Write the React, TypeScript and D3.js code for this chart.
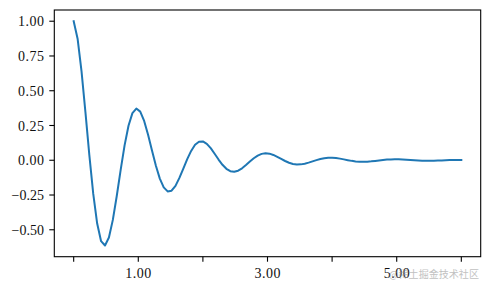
import React from "react";
import * as d3 from "d3";

const tValues = [
  0, 0.0606, 0.1212, 0.1818, 0.2424, 0.303, 0.3636, 0.4242, 0.4848, 0.5455, 0.6061, 0.6667, 0.7273, 0.7879, 0.8485, 0.9091, 0.9697,
  1.0303, 1.0909, 1.1515, 1.2121, 1.2727, 1.3333, 1.3939, 1.4545, 1.5152, 1.5758, 1.6364, 1.697, 1.7576, 1.8182, 1.8788, 1.9394,
  2.0, 2.0606, 2.1212, 2.1818, 2.2424, 2.303, 2.3636, 2.4242, 2.4848, 2.5455, 2.6061, 2.6667, 2.7273, 2.7879, 2.8485, 2.9091, 2.9697,
  3.0303, 3.0909, 3.1515, 3.2121, 3.2727, 3.3333, 3.3939, 3.4545, 3.5152, 3.5758, 3.6364, 3.697, 3.7576, 3.8182, 3.8788, 3.9394,
  4.0, 4.0606, 4.1212, 4.1818, 4.2424, 4.303, 4.3636, 4.4242, 4.4848, 4.5455, 4.6061, 4.6667, 4.7273, 4.7879, 4.8485, 4.9091, 4.9697,
  5.0303, 5.0909, 5.1515, 5.2121, 5.2727, 5.3333, 5.3939, 5.4545, 5.5152, 5.5758, 5.6364, 5.697, 5.7576, 5.8182, 5.8788, 5.9394, 6.0,
];

const yValues = [
  1.0, 0.874, 0.641, 0.346, 0.037, -0.242, -0.455, -0.582, -0.613, -0.556, -0.429, -0.257, -0.069, 0.107, 0.248, 0.339, 0.372,
  0.35, 0.283, 0.183, 0.07, -0.04, -0.132, -0.195, -0.224, -0.219, -0.184, -0.127, -0.06, 0.008, 0.067, 0.111, 0.1335,
  0.1353, 0.1183, 0.0868, 0.0469, 0.0051, -0.0327, -0.0616, -0.0787, -0.083, -0.0753, -0.058, -0.0347, -0.0093, 0.0145, 0.0336, 0.0459, 0.0504,
  0.0474, 0.0382, 0.0248, 0.0095, -0.0054, -0.0178, -0.0264, -0.0303, -0.0296, -0.0249, -0.0173, -0.0081, 0.0011, 0.0091, 0.015, 0.0181,
  0.0183, 0.016, 0.0117, 0.0063, 0.0007, -0.0044, -0.0083, -0.0107, -0.0112, -0.0102, -0.0079, -0.0047, -0.0013, 0.002, 0.0046, 0.0062, 0.0068,
  0.0064, 0.0052, 0.0034, 0.0013, -0.0007, -0.0024, -0.0036, -0.0041, -0.004, -0.0034, -0.0023, -0.0011, 0.0002, 0.0012, 0.002, 0.0025, 0.0025,
];

const xTicks = [0, 1, 2, 3, 4, 5, 6];
const xTickLabels = ["", "1.00", "", "3.00", "", "5.00", ""];
const yTicks = [1.0, 0.75, 0.5, 0.25, 0.0, -0.25, -0.5];
const yTickLabels = ["1.00", "0.75", "0.50", "0.25", "0.00", "\u22120.25", "\u22120.50"];
const watermark = "@稀土掘金技术社区";

export default function App() {
  const W = 490, H = 290;
  const left = 54.3, right = 480.7, top = 10, bottom = 256.7;
  const x = d3.scaleLinear().domain([-0.3, 6.3]).range([left, right]);
  const y = d3.scaleLinear().domain([-0.6937, 1.0807]).range([bottom, top]);
  const pts: [number, number][] = tValues.map((t, i) => [t, yValues[i]]);
  const line = d3.line<[number, number]>().x((d) => x(d[0])).y((d) => y(d[1]));
  const font = "'Liberation Serif', 'DejaVu Serif', serif";
  return (
    <svg width={W} height={H} style={{ position: "absolute", left: 0, top: 0, background: "#fff" }}>
      <rect x={0} y={0} width={W} height={H} fill="#fff" />
      <path d={line(pts) || ""} fill="none" stroke="#1f77b4" strokeWidth={2} strokeLinejoin="round" strokeLinecap="square" />
      <rect x={left} y={top} width={right - left} height={bottom - top} fill="none" stroke="#000" strokeWidth={1.1} />
      {xTicks.map((v, i) => (
        <g key={"x" + i}>
          <line x1={x(v)} x2={x(v)} y1={bottom} y2={bottom + 5} stroke="#000" strokeWidth={1.1} />
          {xTickLabels[i] && (
            <text x={x(v)} y={278} textAnchor="middle" fontFamily={font} fontSize={14} fill="#111"
              textLength={xTickLabels[i].length * 6.5} lengthAdjust="spacing">
              {xTickLabels[i]}
            </text>
          )}
        </g>
      ))}
      {yTicks.map((v, i) => (
        <g key={"y" + i}>
          <line x1={left - 5} x2={left} y1={y(v)} y2={y(v)} stroke="#000" strokeWidth={1.1} />
          <text x={44} y={y(v)} dy="0.36em" textAnchor="end" fontFamily={font} fontSize={14} fill="#111"
            textLength={yTickLabels[i].length * 6.5} lengthAdjust="spacing">
            {yTickLabels[i]}
          </text>
        </g>
      ))}
      <text x={479} y={277.5} textAnchor="end" fontFamily="'Noto Sans CJK SC', sans-serif" fontSize={10} fill="#999" opacity={0.6}
        textLength={90} lengthAdjust="spacingAndGlyphs">
        {watermark}
      </text>
    </svg>
  );
}
